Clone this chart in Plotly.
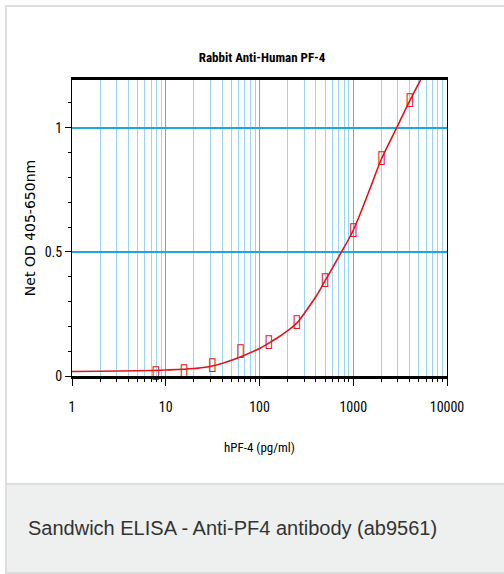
import plotly.graph_objects as go

# ---- data ----
conc_pg_ml = [7.8125, 15.625, 31.25, 62.5, 125, 250, 500, 1000, 2000, 4000]
net_od = [0.012, 0.018, 0.041, 0.098, 0.136, 0.215, 0.383, 0.587, 0.874, 1.108]

fit_x = [1, 2, 5, 10, 20, 31.25, 62.5, 100, 125, 150, 200, 250, 300, 400, 500,
         700, 1000, 1500, 2000, 3000, 4000, 5224]
fit_y = [0.018, 0.019, 0.021, 0.024, 0.030, 0.040, 0.077, 0.111, 0.132, 0.150,
         0.183, 0.213, 0.252, 0.320, 0.383, 0.480, 0.587, 0.752, 0.874, 1.010,
         1.108, 1.192]

x_tickvals = [1, 10, 100, 1000, 10000]
x_ticktext = ["1", "10", "100", "1000", "10000"]
y_tickvals = [0, 0.5, 1]
y_ticktext = ["0", "0.5", "1"]

title_text = "Rabbit Anti-Human PF-4"
x_title = "hPF-4 (pg/ml)"
y_title = "Net OD 405-650nm"
caption = "Sandwich ELISA - Anti-PF4 antibody (ab9561)"
marker_glyph = "\u25af"

# ---- layout geometry (screen pixels) ----
W, H = 504, 574
L, R, T, B = 72, 57, 80, 198
PW, PH = W - L - R, H - T - B


def px(x):
    return (x - L) / PW


def py(y):
    return 1 - (y - T) / PH


RED = "#e2141b"
NARROW = "Liberation Sans Narrow, Roboto Condensed, Liberation Sans, Arial, sans-serif"

fig = go.Figure()
fig.add_trace(go.Scatter(
    x=fit_x, y=fit_y, mode="lines",
    line=dict(color=RED, width=1.6, shape="spline", smoothing=1.0),
    hoverinfo="skip", showlegend=False, cliponaxis=True,
))
fig.add_trace(go.Scatter(
    x=conc_pg_ml, y=net_od, mode="text",
    text=["<b>" + marker_glyph + "</b>"] * len(conc_pg_ml), textposition="middle center",
    textfont=dict(family="DejaVu Sans", size=18, color=RED),
    showlegend=False, cliponaxis=False,
))

shapes = [
    dict(type="rect", xref="paper", yref="paper", x0=px(6), x1=px(520), y0=py(484), y1=py(6),
         line=dict(color="#dedede", width=2), fillcolor="rgba(0,0,0,0)", layer="below"),
    dict(type="rect", xref="paper", yref="paper", x0=px(6), x1=px(520), y0=py(573), y1=py(484),
         line=dict(color="#dedede", width=2), fillcolor="#eef0f0", layer="below"),
]

fig.update_layout(
    width=W, height=H,
    margin=dict(l=L, r=R, t=T, b=B, pad=0),
    paper_bgcolor="white", plot_bgcolor="white",
    shapes=shapes,
    title=dict(text="<b>" + title_text + "</b>", x=px(267), xanchor="center",
               y=1 - 57 / H, yanchor="middle",
               font=dict(family=NARROW, size=13, color="black")),
    annotations=[
        dict(text=caption, xref="paper", yref="paper", x=px(26), y=py(528),
             xanchor="left", yanchor="middle", showarrow=False,
             font=dict(family="Liberation Sans, Arial, sans-serif", size=20, color="#333333")),
    ],
)

fig.update_xaxes(
    type="log", range=[0, 4],
    tickvals=x_tickvals, ticktext=x_ticktext,
    ticks="outside", ticklen=7, tickwidth=1, tickcolor="black",
    ticklabelstandoff=9,
    tickfont=dict(family=NARROW, size=14, color="black"),
    showline=True, linewidth=3, linecolor="black", mirror=True,
    showgrid=True, gridcolor="#45b6e6", gridwidth=1,
    minor=dict(dtick="D1", ticks="outside", ticklen=3, tickcolor="black",
               showgrid=True, gridcolor="#9ad6f2", gridwidth=1),
    zeroline=False,
    title=dict(text=x_title, standoff=30, font=dict(family=NARROW, size=13, color="black")),
)
fig.update_yaxes(
    range=[0, 1.192],
    tickvals=y_tickvals, ticktext=y_ticktext,
    ticks="outside", ticklen=6, tickwidth=1, tickcolor="black",
    tickfont=dict(family=NARROW, size=14, color="black"),
    showline=True, linewidth=1, linecolor="black", mirror=True,
    showgrid=True, gridcolor="#1fa6de", gridwidth=1.5,
    minor=dict(tick0=0, dtick=0.1, ticks="outside", ticklen=3, tickcolor="black", showgrid=False),
    zeroline=False,
    title=dict(text=y_title, standoff=5, font=dict(family="DejaVu Sans, sans-serif", size=14, color="black")),
)

fig.write_html("out.html",
               config={"displayModeBar": False},
               post_script="document.body.style.margin='0';document.body.style.padding='0';")
